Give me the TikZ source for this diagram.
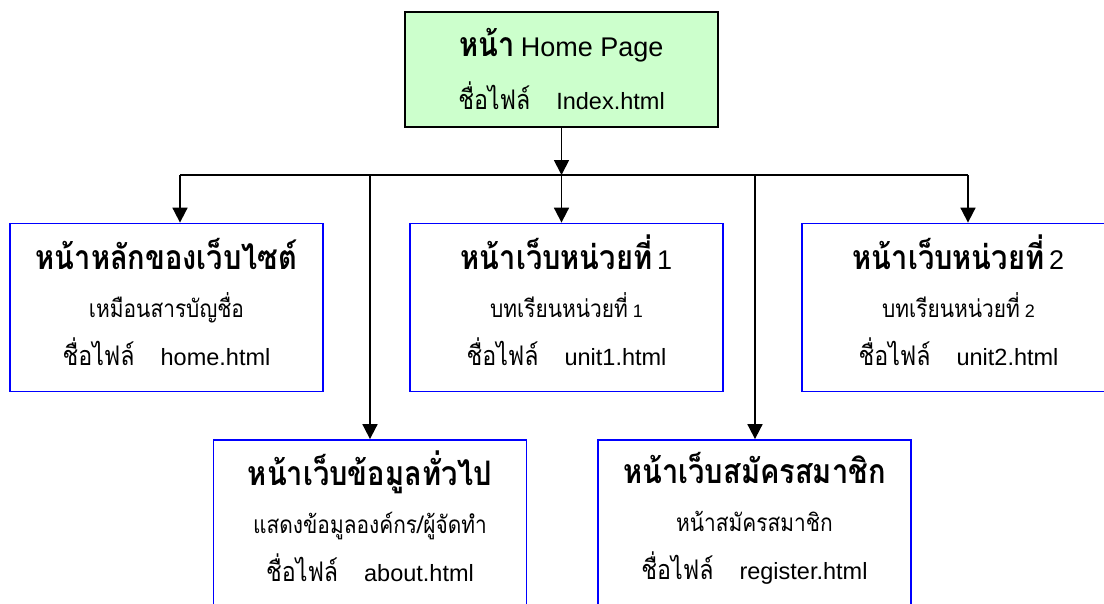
\documentclass[tikz,border=0pt]{standalone}
\usepackage{fontspec}
\setmainfont{Liberation Sans}
\newfontfamily\thai[Script=Thai,Scale=1.35,FakeStretch=0.86]{Loma}
\usetikzlibrary{arrows.meta}
\definecolor{homegreen}{RGB}{204,255,204}
\newcommand{\boxtitle}[1]{{\fontsize{25}{30}\selectfont\bfseries\thai #1}}
\newcommand{\boxlatin}[1]{{\fontsize{27}{30}\selectfont #1}}
\newcommand{\titleline}[1]{\rule{0pt}{20pt}\smash{#1}}
\newcommand{\boxnote}[1]{{\fontsize{18}{22}\selectfont #1}}
\newcommand{\boxfile}[1]{{\fontsize{23.5}{26}\selectfont{\fontsize{20}{26}\thai ชื่อไฟล์}\hspace{26pt}#1}}
\tikzset{
  pagebox/.style={draw=blue,line width=1.8pt,minimum width=313pt,minimum height=168pt,
    align=center,inner sep=0pt,font=\fontsize{18}{48}\selectfont},
  homebox/.style={draw=black,fill=homegreen,line width=1.8pt,minimum width=313pt,minimum height=115pt,
    align=center,inner sep=0pt,font=\fontsize{22}{53}\selectfont},
  link/.style={line width=1.8pt,-{Triangle[width=15pt,length=15pt]}}
}
\begin{document}
\begin{tikzpicture}[x=1pt,y=-1pt]
\useasboundingbox (0,0) rectangle (1104,603);
\clip (0,0) rectangle (1104,603);
\node[homebox] (home) at (561.5,69.5) {\boxtitle{หน้า} \boxlatin{Home Page}\\\boxfile{Index.html}};
\node[pagebox] (main) at (166.5,307.5) {\titleline{\boxtitle{หน้าหลักของเว็บไซต์}}\\
  \boxnote{\thai เหมือนสารบัญชื่อ}\\\boxfile{home.html}};
\node[pagebox] (unitone) at (566.5,307.5) {\titleline{\boxtitle{หน้าเว็บหน่วยที่} \boxlatin{1}}\\
  \boxnote{{\thai บทเรียนหน่วยที่} 1}\\\boxfile{unit1.html}};
\node[pagebox] (unittwo) at (958.5,307.5) {\titleline{\boxtitle{หน้าเว็บหน่วยที่} \boxlatin{2}}\\
  \boxnote{{\thai บทเรียนหน่วยที่} 2}\\\boxfile{unit2.html}};
\node[pagebox] (about) at (370,524) {\titleline{\boxtitle{หน้าเว็บข้อมูลทั่วไป}}\\
  \boxnote{\thai แสดงข้อมูลองค์กร/ผู้จัดทำ}\\\boxfile{about.html}};
\node[pagebox] (register) at (754.5,524) {\titleline{\boxtitle{หน้าเว็บสมัครสมาชิก}}\\
  \boxnote{\thai หน้าสมัครสมาชิก}\\\boxfile{register.html}};
\coordinate (bus) at (561.5,175);
\coordinate (busleft) at (180,175);
\coordinate (busright) at (968,175);
\draw[link] (home) -- (bus);
\draw[line width=1.8pt] (busleft) -- (busright);
\foreach \x/\n in {180/main,370/about,561.5/unitone,755/register,968/unittwo}{
  \coordinate (to\n) at (\x,175);
  \draw[link] (to\n) -- (to\n |- \n.north);
}
\end{tikzpicture}
\end{document}
